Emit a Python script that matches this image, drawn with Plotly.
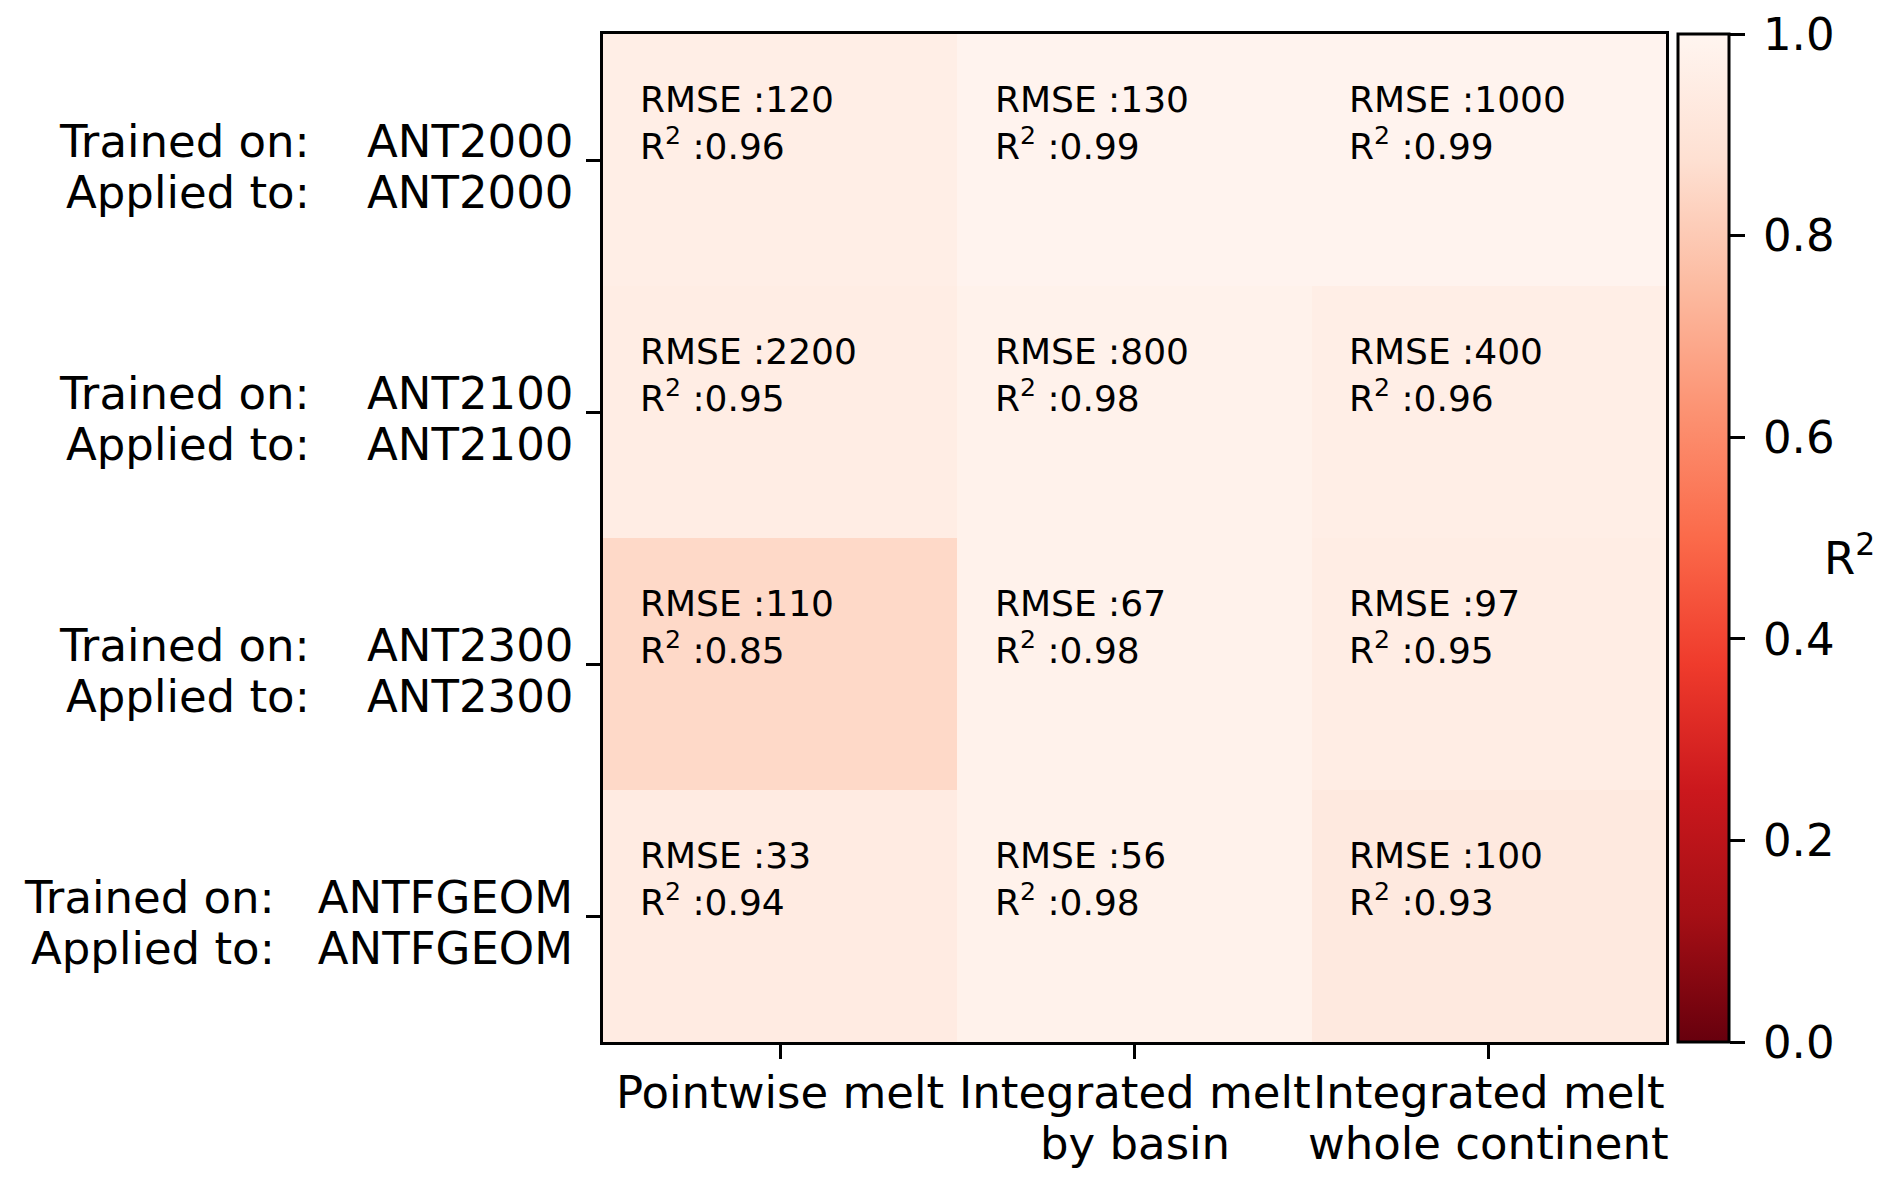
import plotly.graph_objects as go

# models (rows) and metric type (columns)
datasets = ["ANT2000", "ANT2100", "ANT2300", "ANTFGEOM"]
pad_spaces = [4, 4, 4, 3]
col_line1 = ["Pointwise melt", "Integrated melt", "Integrated melt"]
col_line2 = ["", "by basin", "whole continent"]

r2 = [
    [0.96, 0.99, 0.99],
    [0.95, 0.98, 0.96],
    [0.85, 0.98, 0.95],
    [0.94, 0.98, 0.93],
]
rmse = [
    [120, 130, 1000],
    [2200, 800, 400],
    [110, 67, 97],
    [33, 56, 100],
]
cbar_ticks = [0.0, 0.2, 0.4, 0.6, 0.8, 1.0]
cbar_labels = ["0.0", "0.2", "0.4", "0.6", "0.8", "1.0"]

# matplotlib "Reds_r"
reds = ["rgb(103,0,13)", "rgb(165,15,21)", "rgb(203,24,29)", "rgb(239,59,44)",
        "rgb(251,106,74)", "rgb(252,146,114)", "rgb(252,187,161)",
        "rgb(254,224,210)", "rgb(255,245,240)"]
cscale = [[i / (len(reds) - 1), c] for i, c in enumerate(reds)]

# page has an 8px body margin, so the figure is a bit smaller than the window
OFF = 8
W, H = 1892 - 2 * OFF, 1187 - 2 * OFF
FONT = "DejaVu Sans"


def px(x):
    return (x - OFF) / W


def py(y):
    return 1 - (y - OFF) / H


x0, x1, y0, y1 = 603, 1666, 34, 1042   # plot area in window pixels
cell_h = (y1 - y0) / len(datasets)

fig = go.Figure(go.Heatmap(
    z=r2,
    x=list(range(len(col_line1))),
    y=list(range(len(datasets))),
    zmin=0, zmax=1,
    colorscale=cscale,
    hoverinfo="skip",
    colorbar=dict(
        x=px(1678), xanchor="left", xpad=0,
        y=py(y0), yanchor="top", ypad=0,
        len=y1 - y0, lenmode="pixels",
        thickness=51, thicknessmode="pixels",
        outlinewidth=3, outlinecolor="black",
        ticks="outside", ticklen=15, tickwidth=3, tickcolor="black",
        tickvals=cbar_ticks,
        ticktext=["\u2009" + t for t in cbar_labels],
        ticklabeloverflow="allow",
        tickfont=dict(size=45, color="black", family=FONT),
    ),
))

ann = []
# cell texts
for i in range(len(datasets)):
    for j in range(len(col_line1)):
        ann.append(dict(
            x=j - 0.4, y=i - 0.3 - 7 / cell_h, xref="x", yref="y",
            xanchor="left", yanchor="top", align="left",
            text=f"RMSE :{rmse[i][j]}<br>R<sup>2</sup> :{r2[i][j]:.2f}",
            showarrow=False, font=dict(size=36, color="black", family=FONT),
        ))

# y labels, one annotation per line
dy = 25.5 / cell_h
shift = 7 / cell_h
for i, name in enumerate(datasets):
    sp = "\u00a0" * pad_spaces[i]
    for k, pre in enumerate(["Trained on:", "Applied to:"]):
        ann.append(dict(
            x=px(575), y=i + shift + (dy if k else -dy), xref="paper", yref="y",
            xanchor="right", yanchor="middle",
            text=pre + sp + name, showarrow=False,
            font=dict(size=45, color="black", family=FONT),
        ))

# x labels
for j in range(len(col_line1)):
    for k, txt in enumerate([col_line1[j], col_line2[j]]):
        if not txt:
            continue
        ann.append(dict(
            x=j, y=py(1092 if k == 0 else 1143), xref="x", yref="paper",
            xanchor="center", yanchor="middle",
            text=txt, showarrow=False,
            font=dict(size=45, color="black", family=FONT),
        ))

# colorbar label
ann.append(dict(
    x=px(1822), y=py(555), xref="paper", yref="paper",
    xanchor="left", yanchor="middle", text="R<sup>2</sup>", showarrow=False,
    font=dict(size=45, color="black", family=FONT),
))

fig.update_layout(
    width=W, height=H,
    margin=dict(l=0, r=0, t=0, b=0),
    paper_bgcolor="white", plot_bgcolor="white",
    font=dict(family=FONT, color="black"),
    annotations=ann,
    xaxis=dict(
        domain=[px(x0), px(x1)], range=[-0.5, 2.5],
        tickvals=list(range(len(col_line1))), showticklabels=False,
        ticks="outside", ticklen=14, tickwidth=3, tickcolor="black",
        showline=True, mirror=True, linewidth=3, linecolor="black",
        showgrid=False, zeroline=False,
    ),
    yaxis=dict(
        domain=[py(y1), py(y0)], range=[3.5, -0.5],
        tickvals=list(range(len(datasets))), showticklabels=False,
        ticks="outside", ticklen=14, tickwidth=3, tickcolor="black",
        showline=True, mirror=True, linewidth=3, linecolor="black",
        showgrid=False, zeroline=False,
    ),
)

fig.write_html("out.html")
